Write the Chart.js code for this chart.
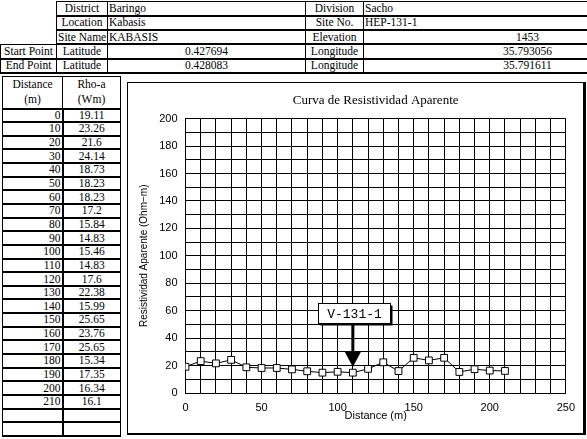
<html><head>
<title>Curva de Resistividad Aparente</title>
<style>
  body {
    margin: 0;
    width: 587px;
    height: 439px;
    overflow: hidden;
    background: #fff;
    font-family: "Liberation Serif", serif;
    font-size: 11.5px;
    position: relative;
  }
  table {
    border-collapse: collapse;
    table-layout: fixed;
    position: absolute;
  }
  td {
    border: 1px solid #000;
    padding: 0 1px;
    white-space: nowrap;
    overflow: hidden;
    font-family: "Liberation Serif", serif;
    font-size: 11.5px;
    line-height: 11px;
  }
  .info { left: 0; top: 1px; width: 691px; }
  .info td { height: 12.4px; border-bottom-width: 2px; }
  .info tr { height: 14.3px; }
  .info td.blank { border-left: none; border-top: none; border-bottom: none; }
  .c { text-align: center; }
  .r { text-align: right; }
  .dist { left: 2px; top: 76px; width: 118px; }
  .dist td { border-bottom-width: 2px; }
  .dist tr { height: 13.65px; }
  .dist td.r { padding-right: 1px; border-right-width: 2px; }
  .dist tr.head { height: 32px; }
  .dist tr.head td { text-align: center; line-height: 15px; }
  .box {
    position: absolute;
    left: 127px;
    top: 82px;
    width: 455px;
    height: 350px;
    border: 1px solid #000;
    border-right-width: 3px;
    border-bottom-width: 2px;
  }
</style>
<script src="https://cdn.jsdelivr.net/npm/chart.js"></script>
</head>
<body>
  <table class="info">
    <colgroup><col style="width:56px"><col style="width:51px"><col style="width:198px"><col style="width:58px"><col style="width:328px"></colgroup>
    <tr><td class="blank"></td><td class="c">District</td><td>Baringo</td><td class="c">Division</td><td>Sacho</td></tr>
    <tr><td class="blank"></td><td class="c">Location</td><td>Kabasis</td><td class="c">Site No.</td><td>HEP-131-1</td></tr>
    <tr><td class="blank"></td><td class="c">Site Name</td><td>KABASIS</td><td class="c">Elevation</td><td class="c">1453</td></tr>
    <tr><td class="c">Start Point</td><td class="c">Latitude</td><td class="c">0.427694</td><td class="c">Longitude</td><td class="c">35.793056</td></tr>
    <tr><td class="c">End Point</td><td class="c">Latitude</td><td class="c">0.428083</td><td class="c">Longitude</td><td class="c">35.791611</td></tr>
  </table>

  <table class="dist" id="distTable">
    <colgroup><col style="width:60px"><col style="width:58px"></colgroup>
    <tr class="head"><td>Distance<br>(m)</td><td>Rho-a<br>(Wm)</td></tr>
  </table>

  <div class="box"><canvas id="chart" width="455" height="350"></canvas></div>

  <script>
    const distances = [0, 10, 20, 30, 40, 50, 60, 70, 80, 90, 100, 110, 120, 130, 140, 150, 160, 170, 180, 190, 200, 210];
    const rhoLabels = ['19.11', '23.26', '21.6', '24.14', '18.73', '18.23', '18.23', '17.2', '15.84', '14.83', '15.46',
      '14.83', '17.6', '22.38', '15.99', '25.65', '23.76', '25.65', '15.34', '17.35', '16.34', '16.1'];
    const rho = rhoLabels.map(Number);
    const xTickLabels = [0, 50, 100, 150, 200, 250];
    const yTickLabels = [0, 20, 40, 60, 80, 100, 120, 140, 160, 180, 200];
    const markerName = 'V-131-1';
    const markerDistance = 110;

    // fill the side table
    const tbl = document.getElementById('distTable');
    distances.forEach((d, i) => {
      const tr = document.createElement('tr');
      tr.innerHTML = '<td class="r">' + d + '</td><td class="c">' + rhoLabels[i] + '</td>';
      tbl.appendChild(tr);
    });
    for (let i = 0; i < 2; i++) {
      const tr = document.createElement('tr');
      tr.innerHTML = '<td class="r"></td><td></td>';
      tbl.appendChild(tr);
    }

    // arrow + label box pointing at the marked station
    const markerPlugin = {
      id: 'marker',
      afterDatasetsDraw(chart) {
        const { ctx, scales } = chart;
        const x = scales.x.getPixelForValue(markerDistance);
        const boxTop = scales.y.getPixelForValue(65.3);
        const boxBottom = scales.y.getPixelForValue(50.8);
        const headTop = scales.y.getPixelForValue(29.8);
        const tip = scales.y.getPixelForValue(18.9);
        ctx.save();
        // shaft
        ctx.fillStyle = '#000';
        ctx.fillRect(x - 1.5, boxBottom, 3, headTop - boxBottom);
        // head
        ctx.beginPath();
        ctx.moveTo(x - 8, headTop);
        ctx.lineTo(x + 8, headTop);
        ctx.lineTo(x, tip);
        ctx.closePath();
        ctx.fill();
        // label box with shadow
        const bw = 72, bx = Math.round(x - 35) + 0.5;
        const by = Math.round(boxTop) + 0.5, bh = Math.round(boxBottom - boxTop);
        ctx.fillRect(bx + 2, by + 2, bw, bh);
        ctx.fillStyle = '#fff';
        ctx.fillRect(bx, by, bw, bh);
        ctx.strokeStyle = '#000';
        ctx.lineWidth = 1;
        ctx.strokeRect(bx, by, bw, bh);
        ctx.fillStyle = '#000';
        ctx.font = '13px "Liberation Mono", monospace';
        ctx.textAlign = 'center';
        ctx.textBaseline = 'middle';
        ctx.fillText(markerName, bx + bw / 2, by + bh / 2 + 1);
        ctx.restore();
      }
    };

    new Chart(document.getElementById('chart'), {
      type: 'line',
      data: {
        datasets: [{
          data: distances.map((d, i) => ({ x: d, y: rho[i] })),
          borderColor: '#000',
          borderWidth: 1,
          pointStyle: 'rect',
          pointRadius: 4.8,
          pointBorderColor: '#000',
          pointBackgroundColor: '#fff',
          pointBorderWidth: 1,
          tension: 0
        }]
      },
      options: {
        responsive: false,
        animation: false,
        layout: { padding: { top: 6, right: 12, left: 0, bottom: 0 } },
        plugins: {
          legend: { display: false },
          tooltip: { enabled: false },
          title: {
            display: true,
            text: 'Curva de Resistividad Aparente',
            fullSize: false,
            color: '#000',
            font: { family: '"Liberation Serif", serif', size: 13, weight: 'normal' },
            padding: { top: 4, bottom: 10 }
          }
        },
        scales: {
          x: {
            type: 'linear',
            min: 0,
            max: 250,
            afterFit: s => { s.height = 40; },
            grid: { color: '#000', lineWidth: 1, drawTicks: false },
            border: { color: '#000' },
            ticks: {
              stepSize: 10,
              padding: 8,
              color: '#000',
              maxRotation: 0,
              autoSkip: false,
              font: { family: '"Liberation Sans", Arial, sans-serif', size: 11 },
              callback: v => xTickLabels.includes(v) ? String(v) : ''
            },
            title: {
              display: true,
              text: 'Distance (m)',
              color: '#000',
              font: { family: '"Liberation Sans", Arial, sans-serif', size: 11 },
              padding: { top: 0, bottom: 10 }
            }
          },
          y: {
            min: 0,
            max: 200,
            afterFit: s => { s.width = 57.5; },
            grid: { color: '#000', lineWidth: 1, drawTicks: false },
            border: { color: '#000' },
            ticks: {
              stepSize: 10,
              padding: 8,
              color: '#000',
              autoSkip: false,
              font: { family: '"Liberation Sans", Arial, sans-serif', size: 11 },
              callback: v => yTickLabels.includes(v) ? String(v) : ''
            },
            title: {
              display: true,
              text: 'Resistividad Aparente (Ohm\u2212m)',
              color: '#000',
              font: { family: '"Liberation Sans", Arial, sans-serif', size: 10 },
              padding: { top: 10, bottom: 0 }
            }
          }
        }
      },
      plugins: [markerPlugin]
    });
  </script>
</body></html>
